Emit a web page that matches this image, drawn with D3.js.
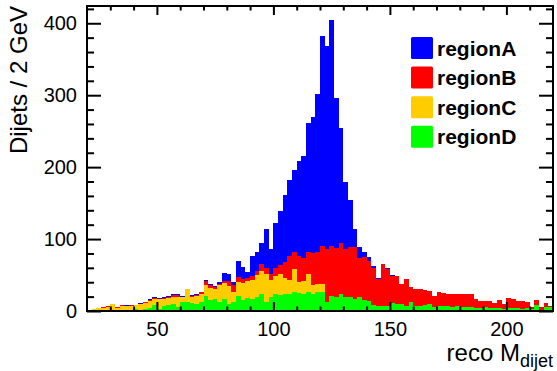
<!DOCTYPE html>
<html>
<head>
<meta charset="utf-8">
<script src="https://cdn.jsdelivr.net/npm/d3@7"></script>
<style>
body { margin: 0; background: #fff; }
svg { display: block; font-family: "Liberation Sans", Arial, Helvetica, sans-serif; }
</style>
</head>
<body>
<svg class="chart"></svg>
<script>
// histogram binning: 2 GeV bins from 20 to 220
var binStart = 20, binWidth = 2;

var regionA = [0,0,0,0,0,0,0,0,1,0,1,1,1,1,1,1,1,1,1,1,1,0,
  1,1,0,1,2,1,2,11,9,4,23,16,8,28,26,29,54,34,62,75,
  93,105,114,132,142,179,189,219,292,282,314,208,161,94,
  66,25,16,7,6,3,1,1,1,1,0,
  0,0,0,0,0,0,0,0,0,0,0,0,0,0,0,0,0,0,0,0,0,0,0,0,0,0,0,0,0,0,0,0,0];

var regionB = [0,0,0,1,1,0,1,1,0,1,0,0,1,1,1,1,2,2,2,2,1,1,
  1,1,2,6,4,4,2,3,7,9,6,6,4,6,6,11,9,9,12,13,
  22,34,24,35,31,30,44,44,52,73,70,69,70,67,
  69,72,53,60,55,52,38,58,52,38,39,
  28,37,20,24,24,20,18,16,19,18,17,17,16,18,18,18,13,10,9,10,7,11,7,14,13,10,11,8,2,7,3,5,2];

var regionC = [1,2,3,3,4,8,3,5,5,5,5,8,8,10,9,13,9,9,10,14,7,17,
  9,11,11,15,17,14,23,23,25,14,20,24,24,26,31,31,39,23,24,29,
  23,19,31,16,19,25,12,11,11,1,0,0,0,0,
  0,0,0,0,0,0,0,0,0,0,0,
  0,0,0,0,0,0,0,0,0,0,0,0,0,0,0,0,0,0,0,0,0,0,0,0,0,0,0,0,0,0,0,0,0];

var regionD = [1,1,1,1,2,2,1,2,2,2,3,2,3,4,8,3,7,9,10,6,12,13,
  11,10,13,21,15,16,13,16,10,13,21,15,18,17,19,24,12,20,24,22,
  23,24,27,25,23,27,24,27,27,12,21,19,24,19,
  20,17,20,15,14,8,7,7,7,11,10,
  10,7,13,7,7,9,10,5,7,7,7,6,7,6,6,5,4,4,5,4,4,4,3,4,4,4,3,4,3,8,2,6,5];

var legendNames = ["regionA", "regionB", "regionC", "regionD"];
var colors = {regionA: "#0000ff", regionB: "#ff0000", regionC: "#ffcc00", regionD: "#00ff00"};
var xTicks = [50, 100, 150, 200];
var yTicks = [0, 100, 200, 300, 400];

var svg = d3.select(".chart").attr("width", 557).attr("height", 371),
    margin = {top: 6, right: 4, bottom: 60, left: 87},
    width = 557 - margin.left - margin.right,
    height = 371 - margin.top - margin.bottom,
    g = svg.append("g").attr("transform", "translate(" + margin.left + "," + margin.top + ")");

var table = regionA.map(function(d, i) {
  return {lo: binStart + i * binWidth, regionA: regionA[i], regionB: regionB[i], regionC: regionC[i], regionD: regionD[i]};
});

var xScale = d3.scaleLinear().domain([20, 220]).range([0, width]);
var yScale = d3.scaleLinear().domain([0, 424]).range([height, 0]);

// stack: D at the bottom, A on top
var layers = d3.stack().keys(["regionD", "regionC", "regionB", "regionA"])(table);

g.selectAll("g.layer")
    .data(layers)
  .enter().append("g")
    .attr("class", "layer")
    .attr("fill", function(d) { return colors[d.key]; })
  .selectAll("rect")
    .data(function(d) { return d.filter(function(v) { return v[1] > v[0]; }); })
  .enter().append("rect")
    .attr("shape-rendering", "crispEdges")
    .attr("x", function(d) { return xScale(d.data.lo); })
    .attr("width", function(d) { return xScale(d.data.lo + binWidth) - xScale(d.data.lo); })
    .attr("y", function(d) { return yScale(d[1]); })
    .attr("height", function(d) { return yScale(d[0]) - yScale(d[1]); });

var xMinor = d3.range(30, 220, 10).filter(function(v) { return v % 50 != 0; });
var yMinor = d3.range(20, 424, 20).filter(function(v) { return v % 100 != 0; });

function styleAxis(sel) {
  sel.select(".domain").remove();
  sel.selectAll("line").attr("stroke", "#000").attr("stroke-width", 2);
  sel.selectAll("text").attr("fill", "#000").style("font-size", "20px");
}

// bottom
g.append("g").attr("transform", "translate(0," + height + ")")
    .call(d3.axisBottom(xScale).tickValues(xTicks).tickSize(-9).tickPadding(11))
    .call(styleAxis);
g.append("g").attr("transform", "translate(0," + height + ")")
    .call(d3.axisBottom(xScale).tickValues(xMinor).tickSize(-4.5).tickFormat(""))
    .call(styleAxis);
// top
g.append("g")
    .call(d3.axisTop(xScale).tickValues(xTicks).tickSize(-9).tickFormat(""))
    .call(styleAxis);
g.append("g")
    .call(d3.axisTop(xScale).tickValues(xMinor).tickSize(-4.5).tickFormat(""))
    .call(styleAxis);
// left
g.append("g")
    .call(d3.axisLeft(yScale).tickValues(yTicks).tickSize(-14).tickPadding(10))
    .call(styleAxis);
g.append("g")
    .call(d3.axisLeft(yScale).tickValues(yMinor).tickSize(-7).tickFormat(""))
    .call(styleAxis);
// right
g.append("g").attr("transform", "translate(" + width + ",0)")
    .call(d3.axisRight(yScale).tickValues(yTicks).tickSize(-14).tickFormat(""))
    .call(styleAxis);
g.append("g").attr("transform", "translate(" + width + ",0)")
    .call(d3.axisRight(yScale).tickValues(yMinor).tickSize(-7).tickFormat(""))
    .call(styleAxis);

// frame
g.append("rect")
    .attr("width", width).attr("height", height)
    .attr("fill", "none").attr("stroke", "#000").attr("stroke-width", 2);

// axis titles
var xt = svg.append("text")
    .attr("x", 553).attr("y", 361)
    .attr("text-anchor", "end")
    .style("font-size", "24px");
xt.append("tspan").text("reco M");
xt.append("tspan").attr("dy", 6).style("font-size", "18px").text("dijet");

svg.append("text")
    .attr("transform", "translate(27,6) rotate(-90)")
    .attr("text-anchor", "end")
    .style("font-size", "24px")
    .text("Dijets / 2 GeV");

// legend
var legend = svg.append("g").attr("transform", "translate(411,37)");
var row = legend.selectAll("g").data(legendNames).enter().append("g")
    .attr("transform", function(d, i) { return "translate(0," + (i * 29.6) + ")"; });
row.append("rect")
    .attr("width", 22).attr("height", 22).attr("rx", 1.5)
    .attr("fill", function(d) { return colors[d]; });
row.append("text")
    .attr("x", 26).attr("y", 18.5)
    .style("font-size", "21px").style("font-weight", "bold")
    .text(function(d) { return d; });
</script>
</body>
</html>
